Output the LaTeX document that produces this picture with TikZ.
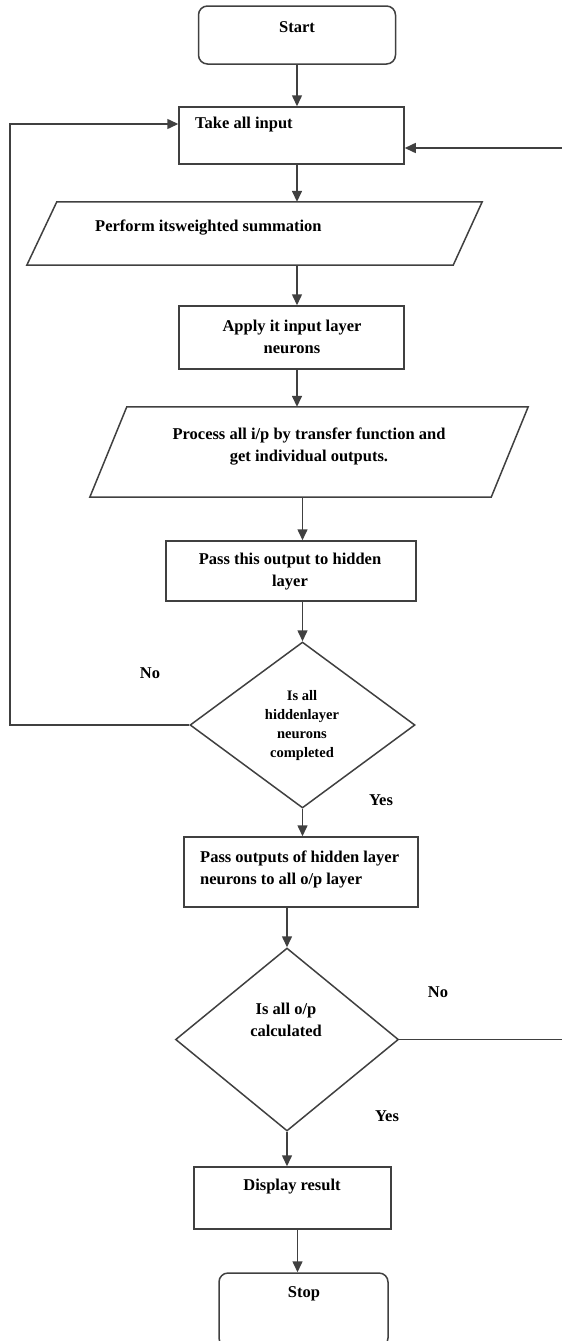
\documentclass[tikz,border=0pt]{standalone}
\usepackage{fontspec}
\setmainfont{Liberation Serif}
\usetikzlibrary{arrows.meta,shapes.geometric}
\begin{document}
\begin{tikzpicture}[x=1pt,y=-1pt,
  every node/.style={font=\bfseries\fontsize{16.5}{22}\selectfont},
  shp/.style={draw=black!75, line width=1.5pt, inner sep=0pt},
  procbox/.style={shp, rectangle},
  termbox/.style={shp, rectangle, rounded corners=9pt},
  decbox/.style={shp, diamond},
  iobox/.style={rectangle, inner sep=0pt, draw=none},
  txt/.style={inner sep=0pt, align=center},
  lbl/.style={inner sep=0pt},
  arr/.style={draw=black!75, line width=1.5pt, -{Triangle[length=11pt,width=10pt]}},
  ln/.style={draw=black!75, line width=1.5pt}
]
\useasboundingbox (0,0) rectangle (562,1341);

% shapes
\node[termbox, minimum width=197pt, minimum height=58pt] (start) at (297,35) {};
\node[procbox, minimum width=225pt, minimum height=57pt] (take) at (291.5,135.5) {};
\node[iobox, minimum width=455pt, minimum height=63pt] (perf) at (254.5,233.5) {};
\draw[ln] ([xshift=30pt]perf.north west) -- (perf.north east) -- ([xshift=-29pt]perf.south east) -- (perf.south west) -- cycle;
\node[procbox, minimum width=225pt, minimum height=63pt] (apply) at (291.5,337.5) {};
\node[iobox, minimum width=438pt, minimum height=90pt] (proc) at (309,452) {};
\draw[ln] ([xshift=37pt]proc.north west) -- (proc.north east) -- ([xshift=-37pt]proc.south east) -- (proc.south west) -- cycle;
\node[procbox, minimum width=250pt, minimum height=60pt] (pass) at (291,571) {};
\node[decbox, minimum width=225pt, minimum height=166pt] (d1) at (302.5,725) {};
\node[procbox, minimum width=234pt, minimum height=70pt] (pass2) at (301,872) {};
\node[decbox, minimum width=223pt, minimum height=183pt] (d2) at (287,1039.5) {};
\node[procbox, minimum width=197pt, minimum height=62pt] (disp) at (292.5,1198) {};
\node[termbox, minimum width=169pt, minimum height=74pt] (stop) at (303.5,1310) {};

% texts
\node[txt] (tstart) at (297,27) {Start};
\node[txt, anchor=west] (ttake) at (195,125) {Take all input};
\node[txt, anchor=west] (tperf) at (95,228) {Perform itsweighted summation};
\node[txt] (tapply) at (292,337) {Apply it input layer\\neurons};
\node[txt] (tproc) at (309,447) {Process all i/p by transfer function and\\get individual outputs.};
\node[txt] (tpass) at (290,572) {Pass this output to hidden\\layer};
\node[txt, font=\bfseries\fontsize{14.5}{19}\selectfont] (td1) at (302,726) {Is all\\hiddenlayer\\neurons\\completed};
\node[txt, anchor=west, align=left] (tpass2) at (200,869) {Pass outputs of hidden layer\\neurons to all o/p layer};
\node[txt] (td2) at (286,1020) {Is all o/p\\calculated};
\node[txt] (tdisp) at (292,1187) {Display result};
\node[txt] (tstop) at (304,1294) {Stop};

\node[lbl] (no1) at (150,673) {No};
\node[lbl] (yes1) at (381,800) {Yes};
\node[lbl] (no2) at (438,992) {No};
\node[lbl] (yes2) at (387,1116) {Yes};

% connectors
\draw[arr] (start.south) -- (start.south |- take.north);
\draw[arr] (take.south -| start) -- (perf.north -| start);
\draw[arr] (perf.south -| start) -- (apply.north -| start);
\draw[arr] (apply.south -| start) -- (proc.north -| start);
\draw[arr] (proc.south -| d1) -- (pass.north -| d1);
\draw[arr] (pass.south -| d1) -- (d1.north);
\draw[arr] (d1.south) -- (pass2.north -| d1);
\draw[arr] (pass2.south -| d2) -- (d2.north);
\draw[arr] (d2.south) -- (disp.north -| d2);
\draw[arr] ([xshift=5pt]disp.south) -- ([xshift=5pt]disp.south |- stop.north);

\coordinate (lc) at (10,124);
\coordinate (rc) at (562.5,148);
\draw[arr] (d1.west) -| (lc) -- (take.west |- lc);
\draw[arr] (d2.east) -| (rc) -- (take.east |- rc);
\end{tikzpicture}
\end{document}
